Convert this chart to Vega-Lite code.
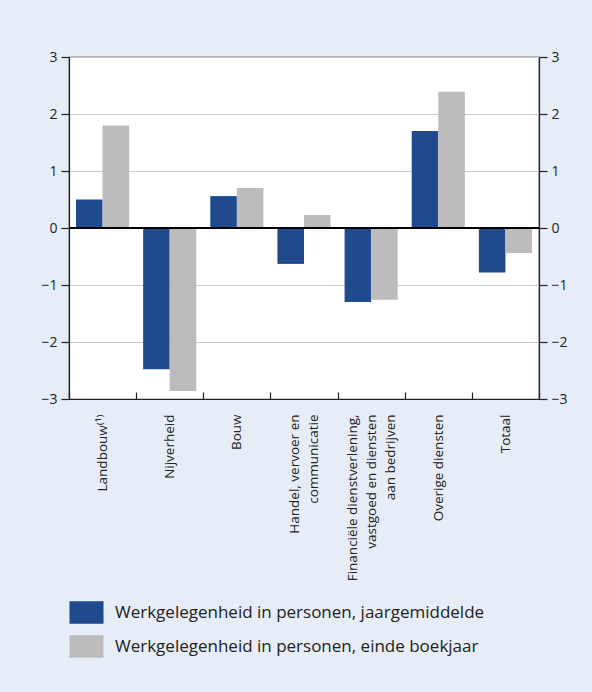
{
  "$schema": "https://vega.github.io/schema/vega-lite/v6.json",
  "width": 470,
  "height": 342,
  "autosize": {"type": "none"},
  "padding": {"left": 69, "top": 57, "right": 53, "bottom": 293},
  "background": "#e6edf6",
  "config": {
    "font": "Open Sans",
    "view": {"fill": "white", "stroke": "#222", "strokeWidth": 1.2},
    "axis": {"labelColor": "#222", "tickColor": "#222", "domainColor": "#222", "titleColor": "#222"}
  },
  "data": {
    "values": [
      {"sector": "Landbouw⁽¹⁾", "reeks": "Werkgelegenheid in personen, jaargemiddelde", "waarde": 0.5},
      {"sector": "Landbouw⁽¹⁾", "reeks": "Werkgelegenheid in personen, einde boekjaar", "waarde": 1.8},
      {"sector": "Nijverheid", "reeks": "Werkgelegenheid in personen, jaargemiddelde", "waarde": -2.48},
      {"sector": "Nijverheid", "reeks": "Werkgelegenheid in personen, einde boekjaar", "waarde": -2.86},
      {"sector": "Bouw", "reeks": "Werkgelegenheid in personen, jaargemiddelde", "waarde": 0.56},
      {"sector": "Bouw", "reeks": "Werkgelegenheid in personen, einde boekjaar", "waarde": 0.7},
      {"sector": "Handel, vervoer en|communicatie", "reeks": "Werkgelegenheid in personen, jaargemiddelde", "waarde": -0.63},
      {"sector": "Handel, vervoer en|communicatie", "reeks": "Werkgelegenheid in personen, einde boekjaar", "waarde": 0.23},
      {"sector": "Financiële dienstverlening,|vastgoed en diensten|aan bedrijven", "reeks": "Werkgelegenheid in personen, jaargemiddelde", "waarde": -1.3},
      {"sector": "Financiële dienstverlening,|vastgoed en diensten|aan bedrijven", "reeks": "Werkgelegenheid in personen, einde boekjaar", "waarde": -1.26},
      {"sector": "Overige diensten", "reeks": "Werkgelegenheid in personen, jaargemiddelde", "waarde": 1.7},
      {"sector": "Overige diensten", "reeks": "Werkgelegenheid in personen, einde boekjaar", "waarde": 2.39},
      {"sector": "Totaal", "reeks": "Werkgelegenheid in personen, jaargemiddelde", "waarde": -0.78},
      {"sector": "Totaal", "reeks": "Werkgelegenheid in personen, einde boekjaar", "waarde": -0.44}
    ]
  },
  "layer": [
    {
      "mark": {"type": "bar"},
      "encoding": {
        "x": {
          "field": "sector", "type": "nominal", "sort": null,
          "scale": {"paddingInner": 0, "paddingOuter": 0},
          "axis": {
            "title": null, "labelAngle": -90, "labelFontSize": 13.5,
            "labelExpr": "split(datum.label, '|')", "labelLineHeight": 19,
            "labelOffset": {
              "condition": [
                {"test": "length(split(datum.value, '|')) == 3", "value": -19},
                {"test": "length(split(datum.value, '|')) == 2", "value": -9.5}
              ],
              "value": 0
            },
            "tickBand": "extent", "tickSize": -7, "labelPadding": 22,
            "domainWidth": 1.2, "tickWidth": 1.2, "labelLimit": 300
          }
        },
        "xOffset": {
          "field": "reeks", "type": "nominal", "sort": null,
          "scale": {"paddingInner": 0, "paddingOuter": 0.264}
        },
        "y": {
          "field": "waarde", "type": "quantitative",
          "scale": {"domain": [-3, 3], "nice": false},
          "axis": {
            "title": null, "orient": "left", "values": [-3, -2, -1, 0, 1, 2, 3],
            "labelFontSize": 14, "tickSize": 8, "labelPadding": 4,
            "grid": true, "gridColor": "#c8c8c8", "gridWidth": 1,
            "domainWidth": 1.2, "tickWidth": 1.2
          }
        },
        "color": {
          "field": "reeks", "type": "nominal", "sort": null,
          "scale": {"range": ["#204a8d", "#bcbcbc"]},
          "legend": {
            "title": null, "orient": "none", "legendX": 6, "legendY": 544,
            "direction": "vertical", "padding": 0,
            "symbolType": "M-1.5,-1H1.5V1H-1.5Z", "symbolSize": 515,
            "symbolStrokeWidth": 0, "labelFontSize": 17, "labelColor": "#222",
            "labelOffset": 17, "rowPadding": 11, "labelLimit": 500
          }
        }
      }
    },
    {
      "mark": {"type": "rule", "color": "#000", "strokeWidth": 1.3},
      "encoding": {
        "y": {
          "datum": 0, "type": "quantitative",
          "scale": {"domain": [-3, 3], "nice": false},
          "axis": {
            "title": null, "orient": "right", "values": [-3, -2, -1, 0, 1, 2, 3],
            "labelFontSize": 14, "tickSize": 8, "labelPadding": 4, "grid": false,
            "domainWidth": 1.2, "tickWidth": 1.2
          }
        }
      }
    }
  ],
  "resolve": {"axis": {"y": "independent"}}
}
